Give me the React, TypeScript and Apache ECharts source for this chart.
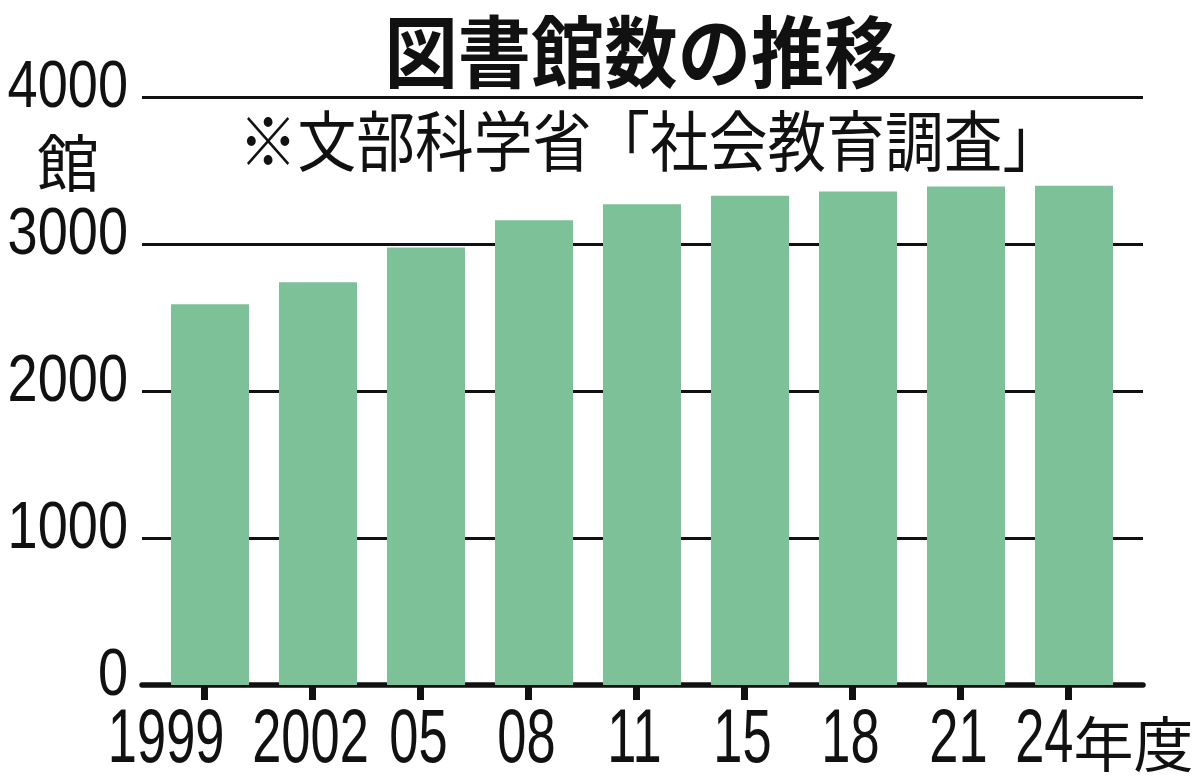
import React, { useEffect, useRef } from 'react';
import * as echarts from 'echarts';

const categories = ['1999', '2002', '05', '08', '11', '15', '18', '21', '24年度'];
const libraryCounts = [2592, 2742, 2979, 3165, 3274, 3331, 3360, 3394, 3399];
const yTickLabels = ['0', '1000', '2000', '3000', '4000'];
const titleText = '図書館数の推移';
const sourceText = '※文部科学省「社会教育調査」';
const unitText = '館';

const SANS = "'Liberation Sans', Arimo, 'Noto Sans', sans-serif";
const CJK = "'Noto Sans CJK JP', 'Noto Sans CJK SC', sans-serif";
const INK = '#111111';
const BAR = '#7cc198';

export default function App() {
  const ref = useRef<HTMLDivElement>(null);
  useEffect(() => {
    if (!ref.current) return;
    const chart = echarts.init(ref.current, undefined, { renderer: 'svg' });
    const yMax = Number(yTickLabels[yTickLabels.length - 1]);
    const yStep = Number(yTickLabels[1]) - Number(yTickLabels[0]);

    const yLabelItem = (params: any, api: any) => {
      const pt = api.coord([0, api.value(1)]);
      const text = yTickLabels[api.value(2)];
      return {
        type: 'text',
        x: params.coordSys.x - 14,
        y: pt[1] - 13,
        scaleX: 0.82,
        style: {
          text,
          fontFamily: SANS,
          fontSize: 66,
          fill: INK,
          align: 'right',
          verticalAlign: 'middle',
          textAlign: 'right',
          textVerticalAlign: 'middle',
        },
      };
    };

    const xLabelItem = (params: any, api: any) => {
      const idx = api.value(0);
      const pt = api.coord([idx, 0]);
      const label = categories[idx];
      const m = label.match(/^(\d+)(.*)$/);
      const digits = m ? m[1] : label;
      const suffix = m ? m[2] : '';
      const digitStyle = (align: string) => ({
        text: digits,
        fontFamily: SANS,
        fontSize: 76,
        fill: INK,
        align,
        verticalAlign: 'middle',
        textAlign: align,
        textVerticalAlign: 'middle',
      });
      if (suffix) {
        return {
          type: 'group',
          children: [
            { type: 'text', x: pt[0] + 5, y: pt[1] + 51, scaleX: 0.69, style: digitStyle('right') },
            {
              type: 'text',
              x: pt[0] + 5,
              y: pt[1] + 55,
              style: {
                text: suffix,
                fontFamily: CJK,
                fontSize: 60,
                fill: INK,
                align: 'left',
                verticalAlign: 'middle',
                textAlign: 'left',
                textVerticalAlign: 'middle',
              },
            },
          ],
        };
      }
      if (idx === 0) {
        return { type: 'text', x: pt[0] + 20, y: pt[1] + 51, scaleX: 0.69, style: digitStyle('right') };
      }
      return { type: 'text', x: pt[0] - 2, y: pt[1] + 51, scaleX: 0.69, style: digitStyle('center') };
    };

    const option: any = {
      animation: false,
      backgroundColor: '#ffffff',
      grid: [
        { left: 142, right: 57, top: 97.5, bottom: 92 },
        { left: 156, right: 72, top: 97.5, bottom: 92 },
        { left: 150.5, right: 77.5, top: 97.5, bottom: 92 },
      ],
      xAxis: [
        {
          gridIndex: 0,
          type: 'category',
          data: categories,
          axisLine: { show: true, lineStyle: { color: INK, width: 5.5 } },
          axisTick: { show: false },
          axisLabel: { show: false },
          splitLine: { show: false },
        },
        { gridIndex: 1, type: 'category', data: categories, show: false },
        {
          gridIndex: 2,
          type: 'category',
          data: categories,
          axisLine: { show: false },
          axisTick: { show: true, alignWithLabel: true, length: 15, lineStyle: { color: INK, width: 7 } },
          axisLabel: { show: false },
        },
      ],
      yAxis: [
        {
          gridIndex: 0,
          type: 'value',
          min: 0,
          max: yMax,
          interval: yStep,
          axisLine: { show: false },
          axisTick: { show: false },
          axisLabel: { show: false },
          splitLine: { show: true, lineStyle: { color: INK, width: 3 } },
        },
        { gridIndex: 1, type: 'value', min: 0, max: yMax, show: false, splitLine: { show: false } },
        { gridIndex: 2, type: 'value', min: 0, max: yMax, show: false, splitLine: { show: false } },
      ],
      series: [
        {
          type: 'bar',
          xAxisIndex: 1,
          yAxisIndex: 1,
          data: libraryCounts,
          barWidth: 78,
          itemStyle: { color: BAR },
          z: 1,
        },
        {
          type: 'custom',
          name: 'yLabels',
          xAxisIndex: 0,
          yAxisIndex: 0,
          clip: false,
          silent: true,
          z: 5,
          data: yTickLabels.map((t, i) => [0, Number(t), i]),
          renderItem: yLabelItem,
        },
        {
          type: 'custom',
          name: 'xLabels',
          xAxisIndex: 2,
          yAxisIndex: 2,
          clip: false,
          silent: true,
          z: 5,
          data: categories.map((_, i) => [i, 0]),
          renderItem: xLabelItem,
        },
      ],
      graphic: [
        {
          type: 'text',
          x: 641,
          y: 48,
          scaleX: 0.94,
          style: {
            text: titleText,
            fontFamily: CJK,
            fontWeight: 700,
            fontSize: 78,
            fill: INK,
            textAlign: 'center',
            textVerticalAlign: 'middle',
          },
        },
        {
          type: 'text',
          x: 650,
          y: 137,
          scaleX: 0.89,
          style: {
            text: sourceText,
            fontFamily: CJK,
            fontWeight: 400,
            fontSize: 66,
            fill: INK,
            textAlign: 'center',
            textVerticalAlign: 'middle',
          },
        },
        {
          type: 'text',
          x: 68,
          y: 160,
          style: {
            text: unitText,
            fontFamily: CJK,
            fontWeight: 400,
            fontSize: 62,
            fill: INK,
            textAlign: 'center',
            textVerticalAlign: 'middle',
          },
        },
      ],
    };
    chart.setOption(option);
    return () => chart.dispose();
  }, []);
  return <div ref={ref} style={{ width: 1200, height: 777, position: 'absolute', left: 0, top: 0 }} />;
}
